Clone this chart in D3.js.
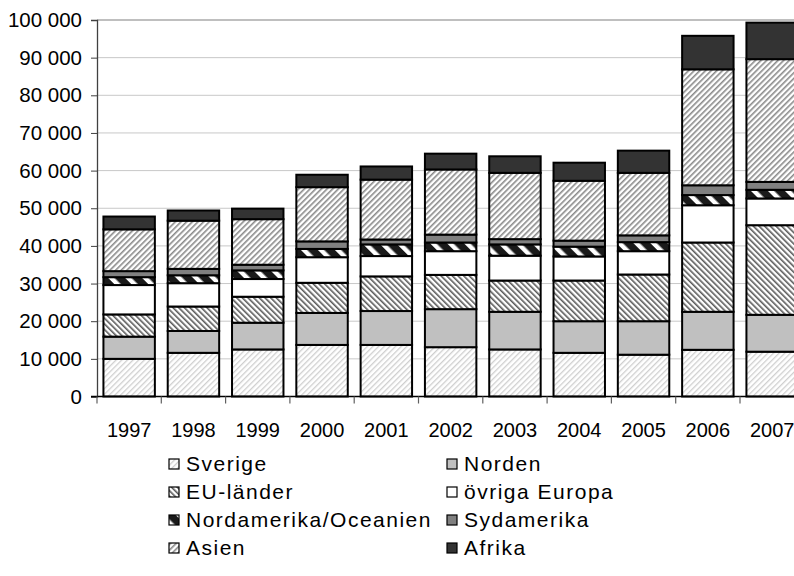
<!DOCTYPE html>
<html><head><meta charset="utf-8">
<script src="https://cdn.jsdelivr.net/npm/d3@7"></script>
<style>
body{margin:0;background:#fff;}
text{font-family:"Liberation Sans",Arial,sans-serif;fill:#000;}
</style></head>
<body><svg id="c" width="794" height="576"></svg>
<script>
const years = ["1997","1998","1999","2000","2001","2002","2003","2004","2005","2006","2007"];
const seriesNames = ["Sverige","Norden","EU-länder","övriga Europa","Nordamerika/Oceanien","Sydamerika","Asien","Afrika"];
const sverige  = [10.0,11.6,12.5,13.7,13.7,13.1,12.5,11.6,11.1,12.4,11.9];
const norden   = [5.9,5.8,7.1,8.5,9.0,10.1,10.0,8.4,8.9,10.1,9.8];
const eu       = [5.9,6.5,6.9,8.0,9.2,9.1,8.3,10.8,12.4,18.4,23.8];
const ovriga   = [7.8,6.2,4.7,6.8,5.4,6.3,6.6,6.4,6.2,9.9,7.1];
const nordam   = [2.1,2.1,2.3,2.2,3.1,2.3,3.0,2.6,2.4,2.7,2.3];
const sydam    = [1.6,1.7,1.5,2.0,1.3,2.1,1.4,1.6,1.8,2.6,2.1];
const asien    = [11.1,12.8,12.1,14.4,15.9,17.3,17.6,15.9,16.6,30.8,32.6];
const afrika   = [3.4,2.7,2.8,3.3,3.5,4.2,4.4,4.8,5.9,8.9,9.7];
const yTicks = [0,10000,20000,30000,40000,50000,60000,70000,80000,90000,100000];

const seriesVals = [sverige,norden,eu,ovriga,nordam,sydam,asien,afrika];
const fills = ["url(#pSverige)","#c0c0c0","url(#pEU)","#ffffff","url(#pNordam)","#808080","url(#pAsien)","#333333"];

const rows = years.map((yr,i)=>{const o={year:yr}; seriesNames.forEach((s,j)=>o[s]=seriesVals[j][i]*1000); return o;});
const stack = d3.stack().keys(seriesNames)(rows);

const svg = d3.select("#c");
const defs = svg.append("defs");
function hatch(id, angle, spacing, color, width, bg){
  const p = defs.append("pattern").attr("id",id).attr("patternUnits","userSpaceOnUse")
    .attr("width",spacing).attr("height",spacing).attr("patternTransform",`rotate(${angle})`);
  p.append("rect").attr("width",spacing).attr("height",spacing).attr("fill",bg);
  p.append("rect").attr("x",0).attr("y",0).attr("width",width).attr("height",spacing).attr("fill",color);
}
hatch("pSverige",45,4,"#cfcfcf",1.3,"#ffffff");
hatch("pEU",-45,4,"#5a5a5a",1.6,"#ffffff");
hatch("pAsien",45,4,"#8a8a8a",1.6,"#ffffff");
hatch("pNordam",-45,12,"#ffffff",4.5,"#1a1a1a");

const pLeft=97, pBottom=396.5, pTop=20, step=64.3;
const x = d3.scaleBand().domain(years).range([pLeft,pLeft+step*years.length]).paddingInner(0.2).paddingOuter(0.1);
const y = d3.scaleLinear().domain([0,100000]).range([pBottom,pTop]);

// gridlines
svg.append("g").selectAll("line").data(yTicks.slice(1,-1)).join("line")
  .attr("x1",pLeft).attr("x2",794).attr("y1",d=>y(d)).attr("y2",d=>y(d))
  .attr("stroke","#c8c8c8").attr("stroke-width",1);
svg.append("line").attr("x1",pLeft).attr("x2",794).attr("y1",y(100000)).attr("y2",y(100000))
  .attr("stroke","#808080").attr("stroke-width",1.2);

// bars
svg.append("g").selectAll("g").data(stack).join("g")
  .attr("fill",(d,i)=>fills[i])
  .selectAll("rect").data(d=>d).join("rect")
  .attr("x",d=>x(d.data.year)).attr("width",x.bandwidth())
  .attr("y",d=>y(d[1])).attr("height",d=>y(d[0])-y(d[1]))
  .attr("stroke","#000").attr("stroke-width",2);

// y axis
const yAxis = d3.axisLeft(y).tickValues(yTicks).tickSize(6).tickPadding(9)
  .tickFormat(d=>d3.format(",")(d).replace(/,/g," "));
const ya = svg.append("g").attr("transform",`translate(${pLeft},0)`).call(yAxis);
ya.select(".domain").attr("stroke","#404040").attr("stroke-width",1.3);
ya.selectAll(".tick line").attr("stroke","#404040");
ya.selectAll("text").attr("font-size","20.5px").attr("font-family","Liberation Sans, Arial").attr("fill","#000");

// x axis
const xa = svg.append("g").attr("transform",`translate(0,${pBottom})`)
  .call(d3.axisBottom(x).tickSize(0).tickPadding(26));
xa.select(".domain").remove();
xa.selectAll("text").attr("font-size","20px").attr("font-family","Liberation Sans, Arial").attr("fill","#000");
svg.append("line").attr("x1",pLeft-6).attr("x2",794).attr("y1",pBottom).attr("y2",pBottom).attr("stroke","#000").attr("stroke-width",1.3);
svg.append("g").selectAll("line").data(d3.range(years.length+1)).join("line")
  .attr("x1",i=>pLeft+i*step).attr("x2",i=>pLeft+i*step).attr("y1",pBottom).attr("y2",pBottom+7)
  .attr("stroke","#606060").attr("stroke-width",1.2);

// legend
const lg = svg.append("g");
const colX=[169,447], rowY=[464,492,520,548];
seriesNames.forEach((s,i)=>{
  const cx=colX[i%2], cy=rowY[Math.floor(i/2)];
  lg.append("rect").attr("x",cx).attr("y",cy-5).attr("width",10).attr("height",10)
    .attr("fill",fills[i]).attr("stroke","#000").attr("stroke-width",1.2);
  lg.append("text").attr("x",cx+17).attr("y",cy).attr("dy","0.35em")
    .attr("font-size","21px").style("letter-spacing","1.5px").text(s);
});
</script></body></html>
